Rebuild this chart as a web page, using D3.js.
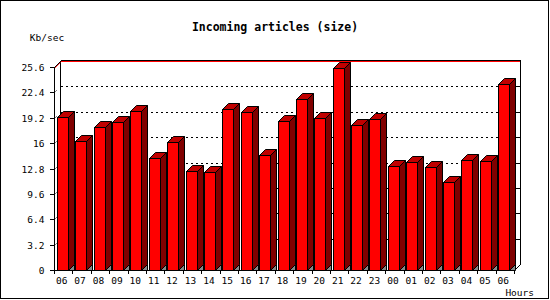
<!DOCTYPE html>
<html>
<head>
<meta charset="utf-8">
<script src="https://cdn.jsdelivr.net/npm/d3@7"></script>
<style>
  html, body { margin: 0; padding: 0; background: #fff; }
  svg { display: block; }
  text { font-family: "DejaVu Sans Mono", monospace; }
</style>
</head>
<body>
<script>
const categories = ["06","07","08","09","10","11","12","13","14","15","16","17","18","19","20","21","22","23","00","01","02","03","04","05","06"];
const values = [19.26,16.27,18.0,18.66,20.0,14.08,16.1,12.48,12.32,20.26,19.92,14.46,18.79,21.52,19.13,25.43,18.25,19.0,13.08,13.58,12.95,11.06,13.83,13.7,23.46];
const yTicks = [0,3.2,6.4,9.6,12.8,16,19.2,22.4,25.6];
const yTickLabels = ["0","3.2","6.4","9.6","12.8","16","19.2","22.4","25.6"];
const chartTitle = "Incoming articles (size)";
const yTitle = "Kb/sec";
const xTitle = "Hours";

(function(){
const W = 550, H = 300;
const pLeft = 54, pRight = 514, pBottom = 270, pTop = 67, depth = 6;

const svg = d3.select("body").append("svg").attr("width", W).attr("height", H);
svg.append("rect").attr("x",0).attr("y",0).attr("width",W).attr("height",H).attr("fill","#fff");

const idx = categories.map((d,i)=>i);
const x = d3.scaleBand().domain(idx).range([pLeft, pRight]).padding(0);
const y = d3.scaleLinear().domain([0, 25.6]).range([pBottom, pTop]);

const g = svg.append("g").attr("shape-rendering","crispEdges");

g.append("line").attr("x1",pLeft+depth+0.5).attr("x2",pRight+depth+0.5).attr("y1",pTop-depth-0.5).attr("y2",pTop-depth-0.5).attr("stroke","#000");
g.append("line").attr("x1",pLeft+depth+0.5).attr("x2",pRight+depth+0.5).attr("y1",pTop-depth+0.5).attr("y2",pTop-depth+0.5).attr("stroke","#f00");
g.append("line").attr("x1",pLeft+depth+0.5).attr("x2",pLeft+depth+0.5).attr("y1",pTop-depth).attr("y2",pBottom-depth).attr("stroke","#000");
g.append("line").attr("x1",pRight+depth+0.5).attr("x2",pRight+depth+0.5).attr("y1",pTop-depth).attr("y2",pBottom-depth+0.5).attr("stroke","#000");

yTicks.slice(1, -1).forEach(t => {
  const yy = Math.round(y(t)) - depth + 0.5;
  g.append("line").attr("x1",pLeft+depth+1).attr("x2",pRight+depth+1).attr("y1",yy).attr("y2",yy)
    .attr("stroke","#000").attr("stroke-dasharray","2,3");
  g.append("line").attr("x1",pRight+depth-2).attr("x2",pRight+depth).attr("y1",yy).attr("y2",yy).attr("stroke","#000");
});

const diag = svg.append("g");
diag.append("line").attr("x1",pLeft+0.5).attr("y1",pTop+0.5).attr("x2",pLeft+depth+0.5).attr("y2",pTop-depth+0.5).attr("stroke","#000");
diag.append("line").attr("x1",pLeft+1).attr("y1",pTop+1).attr("x2",pLeft+depth+0.5).attr("y2",pTop-depth+1.5).attr("stroke","#f00").attr("stroke-width",0.8);
yTicks.slice(1,-1).forEach(t => {
  const yy = Math.round(y(t)) + 0.5;
  diag.append("line").attr("x1",pLeft+1.5).attr("y1",yy-1).attr("x2",pLeft+2.5).attr("y2",yy-2).attr("stroke","#000");
});
diag.append("line").attr("x1",pRight+0.5).attr("y1",pBottom+0.5).attr("x2",pRight+depth+0.5).attr("y2",pBottom-depth+0.5).attr("stroke","#000");

const bw = 11;
const bars = svg.append("g").attr("stroke","#000").attr("stroke-width",1).attr("stroke-linejoin","miter");
values.forEach((v,i) => {
  const x0 = Math.round(x(i) + 2.7) + 0.5;
  const x1 = x0 + bw;
  const yv = Math.round(y(v)) + 0.5;
  const yb = pBottom + 0.5;
  const d = depth;
  bars.append("path").attr("d",`M${x1},${yb}L${x1+d},${yb-d}L${x1+d},${yb}Z`).attr("fill","#888");
  bars.append("path").attr("d",`M${x1},${yv}L${x1+d},${yv-d}L${x1+d},${yb-d}L${x1},${yb}Z`).attr("fill","#800000");
  bars.append("path").attr("d",`M${x0},${yv}L${x0+d},${yv-d}L${x1+d},${yv-d}L${x1},${yv}Z`).attr("fill","#c00000");
  bars.append("rect").attr("x",x0).attr("y",yv).attr("width",bw).attr("height",yb-yv).attr("fill","#f00");
});

const ax = svg.append("g").attr("shape-rendering","crispEdges");
ax.append("line").attr("x1",pLeft+0.5).attr("x2",pLeft+0.5).attr("y1",pTop).attr("y2",pBottom+1).attr("stroke","#000");
ax.append("line").attr("x1",pLeft).attr("x2",pRight+1).attr("y1",pBottom+0.5).attr("y2",pBottom+0.5).attr("stroke","#000");

yTicks.forEach((t,i) => {
  const yy = Math.round(y(t)) + 0.5;
  ax.append("line").attr("x1",pLeft-4).attr("x2",pLeft).attr("y1",yy).attr("y2",yy).attr("stroke","#000");
  svg.append("text").attr("x",44.5).attr("y",yy+3.5).attr("text-anchor","end")
    .attr("font-size","9.5px").attr("fill","#000").text(yTickLabels[i]);
});

d3.range(categories.length+1).forEach(i => {
  const xx = Math.round(pLeft + i*x.step()) + 0.5;
  ax.append("line").attr("x1",xx).attr("x2",xx).attr("y1",pBottom).attr("y2",pBottom+4).attr("stroke","#000");
});
categories.forEach((c,i) => {
  svg.append("text").attr("x", x(i) + 2.7 + bw/2 - 0.5).attr("y",283.5).attr("text-anchor","middle")
    .attr("font-size","9.5px").attr("fill","#000").text(c);
});

svg.append("text").attr("x",275).attr("y",30.5).attr("text-anchor","middle")
  .attr("font-size","11.5px").attr("font-weight","bold").attr("fill","#000").text(chartTitle);
svg.append("text").attr("x",47).attr("y",41).attr("text-anchor","middle")
  .attr("font-size","9.5px").attr("fill","#000").text(yTitle);
svg.append("text").attr("x",534).attr("y",295.5).attr("text-anchor","end")
  .attr("font-size","9.5px").attr("fill","#000").text(xTitle);

svg.append("rect").attr("x",0.5).attr("y",0.5).attr("width",548).attr("height",298)
  .attr("fill","none").attr("stroke","#000").attr("shape-rendering","crispEdges");
})();
</script>
</body>
</html>
